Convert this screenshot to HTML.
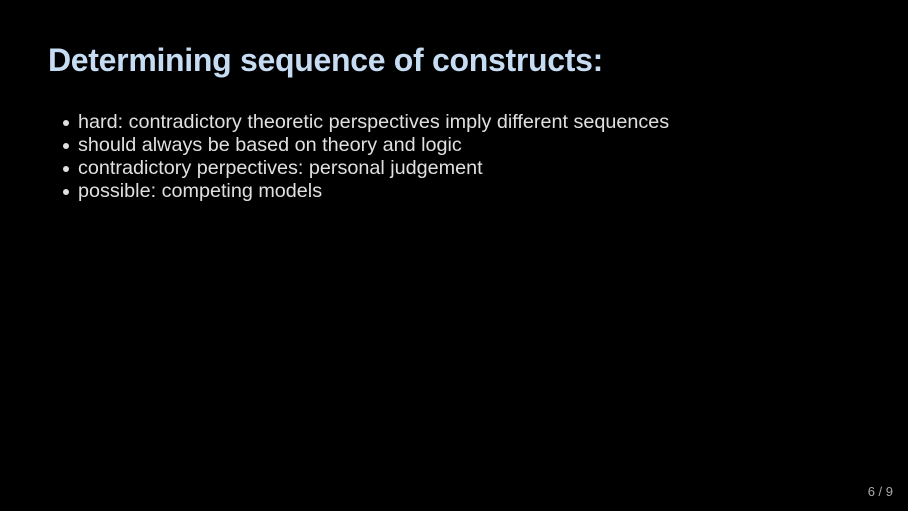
<!DOCTYPE html>
<html><head><style>
html,body{margin:0;padding:0;background:#000;width:908px;height:511px;overflow:hidden;font-family:"Liberation Sans",sans-serif}
h1{position:absolute;left:48px;top:42px;margin:0;font-size:32px;font-weight:bold;color:#c6dcf2;letter-spacing:-0.3px;white-space:nowrap}
ul{position:absolute;left:60px;top:111px;margin:0;padding:0;list-style:none;color:#e0e0e0;font-size:19.8px;line-height:23px;font-weight:300}
li{position:relative;padding-left:18px;white-space:nowrap}
li:before{content:"";position:absolute;left:3px;top:9px;width:6px;height:6px;border-radius:50%;background:#e0e0e0}
.pg{position:absolute;right:15px;top:484px;color:#aaa;font-size:13px}
</style></head><body>
<h1>Determining sequence of constructs:</h1>
<ul>
<li>hard: contradictory theoretic perspectives imply different sequences</li>
<li>should always be based on theory and logic</li>
<li>contradictory perpectives: personal judgement</li>
<li>possible: competing models</li>
</ul>
<div class="pg">6 / 9</div>
</body></html>
